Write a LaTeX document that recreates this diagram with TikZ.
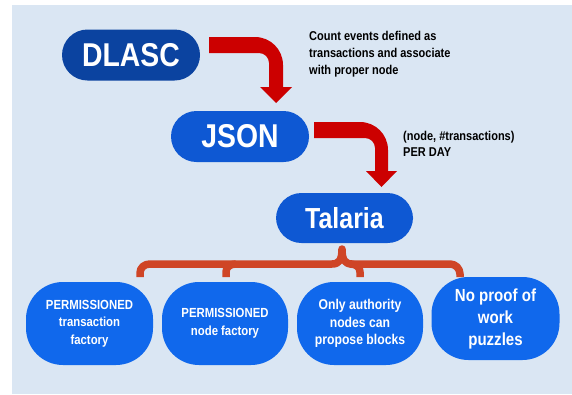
\documentclass[tikz,border=0pt]{standalone}
\usepackage{fontspec}
\setmainfont[FakeStretch=0.86]{Liberation Sans}
\definecolor{bgblue}{HTML}{DAE6F3}
\definecolor{darkbox}{HTML}{0B43A0}
\definecolor{midbox}{HTML}{0E58D3}
\definecolor{bubblefill}{HTML}{1068EC}
\definecolor{arrowred}{HTML}{CC0000}
\definecolor{bracered}{HTML}{CF4526}
\tikzset{
  pill/.style={rectangle, rounded corners=25.5pt, minimum width=138pt, minimum height=51pt, inner sep=0pt,
    text=white, font=\fontsize{33}{36}\selectfont\bfseries},
  bubble/.style={rectangle, rounded corners=37pt, minimum width=127pt, minimum height=83pt, inner sep=0pt,
    fill=bubblefill, text=white, align=center},
  note/.style={anchor=west, inner sep=0pt, align=left, text=black},
  bracestyle/.style={draw=bracered, line width=7.5pt, line cap=butt, line join=round},
}
\begin{document}
\begin{tikzpicture}[x=1pt,y=-1pt]
\useasboundingbox (0,0) rectangle (572,394);
\fill[bgblue] (12,5) rectangle (572,394);

\node[pill, fill=darkbox] (dlasc) at (131,55) {DLASC};
\node[pill, fill=midbox] (json) at (240,136.5) {JSON};
\node[pill, fill=midbox, font=\fontsize{29}{32}\selectfont\bfseries, minimum width=137pt, minimum height=50pt] (talaria) at (344.5,218) {Talaria};

% bent arrows
\fill[arrowred] (209,37) -- (255,37) .. controls (270.5,37) and (283,49.5) .. (283,65) -- (283,87)
  -- (292,87) -- (276,103) -- (260,87) -- (269,87) -- (269,63)
  .. controls (269,57.5) and (264.5,53) .. (259,53) -- (209,53) -- cycle;
\fill[arrowred] (314,122) -- (360,122) .. controls (375.5,122) and (388,134.5) .. (388,150) -- (388,171)
  -- (397,171) -- (381.5,187) -- (366,171) -- (375,171) -- (375,148)
  .. controls (375,142.5) and (370.5,138) .. (365,138) -- (314,138) -- cycle;

\node[note, font=\fontsize{12.8}{17}\selectfont\bfseries] (note1) at (309,54)
  {Count events defined as\\transactions and associate\\with proper node};
\node[note, font=\fontsize{12.8}{16.5}\selectfont\bfseries] (note2) at (403,144)
  {(node, \#transactions)\\PER DAY};

% brace
\draw[bracestyle] (140,277) -- (140,273) .. controls (140,267.5) and (144.5,264) .. (150,264) -- (332,264)
  .. controls (339,264) and (342,260) .. (342,249)
  .. controls (342,260) and (345,264) .. (352,264) -- (450,264)
  .. controls (455.5,264) and (460,268.5) .. (460,274) -- (460,277);
\draw[bracestyle] (236,264) .. controls (230,264) and (226,267) .. (226,272) -- (226,277);
\draw[bracestyle] (350,264) .. controls (356,264) and (360,267) .. (360,272) -- (360,277);

\node[bubble, font=\fontsize{13.2}{17.5}\selectfont\bfseries] (b1) at (89.5,323.5) {PERMISSIONED\\transaction\\factory};
\node[bubble, font=\fontsize{13.2}{17.5}\selectfont\bfseries, minimum width=126pt] (b2) at (225,323.5) {PERMISSIONED\\node factory};
\node[bubble, font=\fontsize{14.2}{17.5}\selectfont\bfseries, minimum width=126pt] (b3) at (360,323.5) {Only authority\\nodes can\\propose blocks};
\node[bubble, font=\fontsize{17.5}{22}\selectfont\bfseries, minimum width=128pt] (b4) at (495.5,318.5) {No proof of\\work\\puzzles};
\end{tikzpicture}
\end{document}
